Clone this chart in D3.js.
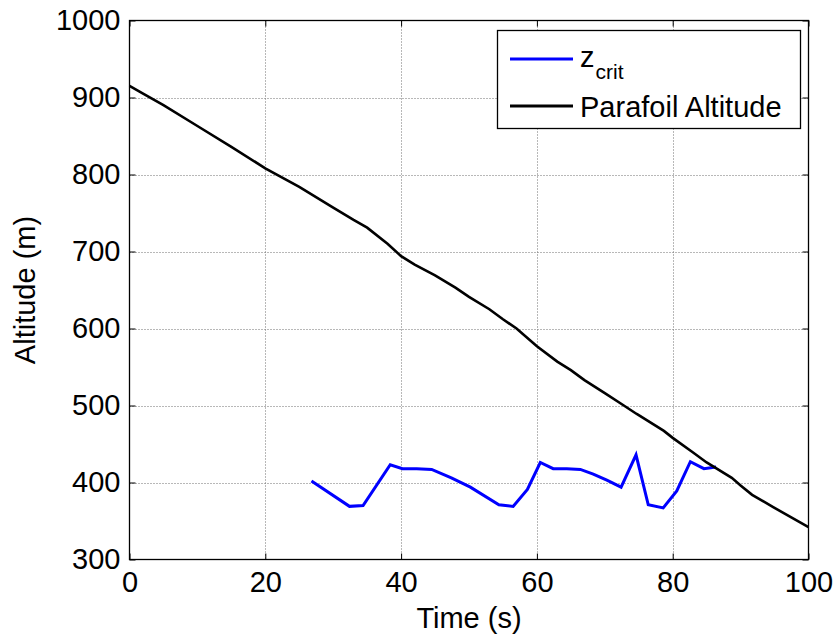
<!DOCTYPE html>
<html>
<head>
<meta charset="utf-8">
<script src="https://cdn.jsdelivr.net/npm/d3@7"></script>
<style>
  html, body { margin: 0; padding: 0; background: #fff; }
  svg { display: block; font-family: "Liberation Sans", Arial, sans-serif; }
</style>
</head>
<body>
<svg id="chart" width="839" height="639"></svg>
<script>
// ---- data ----
const altTime = [0, 2, 5, 10, 15, 20, 25, 30, 33, 35, 38, 40, 42, 45, 48, 50, 53, 55, 57, 60, 63, 65, 67, 70, 72.8, 74.7, 78.7, 80, 83, 85, 88.7, 90, 91.7, 94.8, 100];
const altitude = [915, 905, 890, 863, 836, 808, 784, 757, 741, 731, 710, 694, 683, 669, 653, 641, 625, 612, 600, 577, 557, 546, 533, 516, 500, 489, 467, 458, 439, 426, 406, 396, 384, 368, 342];
const critTime = [26.8, 32.4, 34.4, 38.4, 40.2, 42.3, 44.5, 47.4, 50.2, 54.4, 56.5, 58.6, 60.5, 62.4, 64.4, 66.4, 68.3, 70.3, 72.4, 74.6, 76.4, 78.6, 80.6, 82.6, 84.6, 86.4];
const zCrit = [402, 369, 370, 423, 418, 418, 417, 406, 394, 371, 369, 391, 426, 418, 418, 417, 411, 403, 394, 436, 371, 367, 389, 427, 418, 420];
const xTicks = [0, 20, 40, 60, 80, 100];
const yTicks = [300, 400, 500, 600, 700, 800, 900, 1000];
const xLabel = "Time (s)";
const yLabel = "Altitude (m)";
const legendLabels = ["z", "Parafoil Altitude"];
const legendSub = "crit";
const colors = ["#0000ff", "#000000"];

// ---- layout ----
const L = 129.5, R = 808.5, T = 20.5, B = 559.5;
const svg = d3.select("#chart");
const x = d3.scaleLinear().domain([0, 100]).range([L, R]);
const y = d3.scaleLinear().domain([300, 1000]).range([B, T]);
const fs = 29;

// grid
const grid = svg.append("g");
grid.selectAll(".gx").data(xTicks.slice(1, -1)).join("line")
  .attr("x1", d => Math.round(x(d)) + 0.5).attr("x2", d => Math.round(x(d)) + 0.5)
  .attr("y1", T).attr("y2", B)
  .attr("stroke", "#707070").attr("stroke-width", 1).attr("stroke-dasharray", "1,2");
grid.selectAll(".gy").data(yTicks.slice(1, -1)).join("line")
  .attr("y1", d => Math.round(y(d)) + 0.5).attr("y2", d => Math.round(y(d)) + 0.5)
  .attr("x1", L).attr("x2", R)
  .attr("stroke", "#707070").attr("stroke-width", 1).attr("stroke-dasharray", "1,2");

// axes (ticks inside)
const axB = d3.axisBottom(x).tickValues(xTicks).tickSizeInner(-6).tickSizeOuter(0).tickPadding(14).tickFormat(d3.format("d"));
const axL = d3.axisLeft(y).tickValues(yTicks).tickSizeInner(-6).tickSizeOuter(0).tickPadding(14).tickFormat(d3.format("d"));
const axT = d3.axisTop(x).tickValues(xTicks).tickSizeInner(-6).tickSizeOuter(0).tickFormat("");
const axR = d3.axisRight(y).tickValues(yTicks).tickSizeInner(-6).tickSizeOuter(0).tickFormat("");

function styleAxis(g) {
  g.select(".domain").remove();
  g.selectAll("line").attr("stroke", "#000");
  g.selectAll("text").attr("font-size", fs).attr("fill", "#000")
    .attr("font-family", "'Liberation Sans', Arial, sans-serif");
}
svg.append("g").attr("transform", `translate(0,${B})`).call(axB).call(styleAxis)
  .selectAll("text").attr("dy", "0.71em").attr("y", 12);
svg.append("g").attr("transform", `translate(${L},0)`).call(axL).call(styleAxis)
  .selectAll("text").attr("x", -9);
svg.append("g").attr("transform", `translate(0,${T})`).call(axT).call(styleAxis);
svg.append("g").attr("transform", `translate(${R},0)`).call(axR).call(styleAxis);

// box
svg.append("rect").attr("x", L).attr("y", T).attr("width", R - L).attr("height", B - T)
  .attr("fill", "none").attr("stroke", "#000").attr("stroke-width", 1.3);

// lines
const lineGen = d3.line().x(d => x(d[0])).y(d => y(d[1]));
svg.append("path").datum(critTime.map((t, i) => [t, zCrit[i]]))
  .attr("d", lineGen).attr("fill", "none").attr("stroke", colors[0]).attr("stroke-width", 3).attr("stroke-linejoin", "miter");
svg.append("path").datum(altTime.map((t, i) => [t, altitude[i]]))
  .attr("d", lineGen).attr("fill", "none").attr("stroke", colors[1]).attr("stroke-width", 2.6);

// axis labels
svg.append("text").attr("x", (L + R) / 2).attr("y", 628).attr("text-anchor", "middle")
  .attr("font-size", fs).text(xLabel);
svg.append("text").attr("transform", `translate(35,${(T + B) / 2}) rotate(-90)`).attr("text-anchor", "middle")
  .attr("font-size", fs).text(yLabel);

// legend
const lg = svg.append("g");
lg.append("rect").attr("x", 497.5).attr("y", 30.5).attr("width", 303).attr("height", 98)
  .attr("fill", "#fff").attr("stroke", "#000").attr("stroke-width", 1.3);
const legY = [59, 106];
lg.selectAll(".ll").data(colors).join("line")
  .attr("x1", 510).attr("x2", 573).attr("y1", (d, i) => legY[i]).attr("y2", (d, i) => legY[i])
  .attr("stroke", d => d).attr("stroke-width", 3);
const t1 = lg.append("text").attr("x", 580).attr("y", 67).attr("font-size", fs);
t1.append("tspan").text(legendLabels[0]);
t1.append("tspan").attr("font-size", 21).attr("dy", 12).attr("dx", 1).text(legendSub);
lg.append("text").attr("x", 580).attr("y", 117).attr("font-size", fs).text(legendLabels[1]);
</script>
</body>
</html>
